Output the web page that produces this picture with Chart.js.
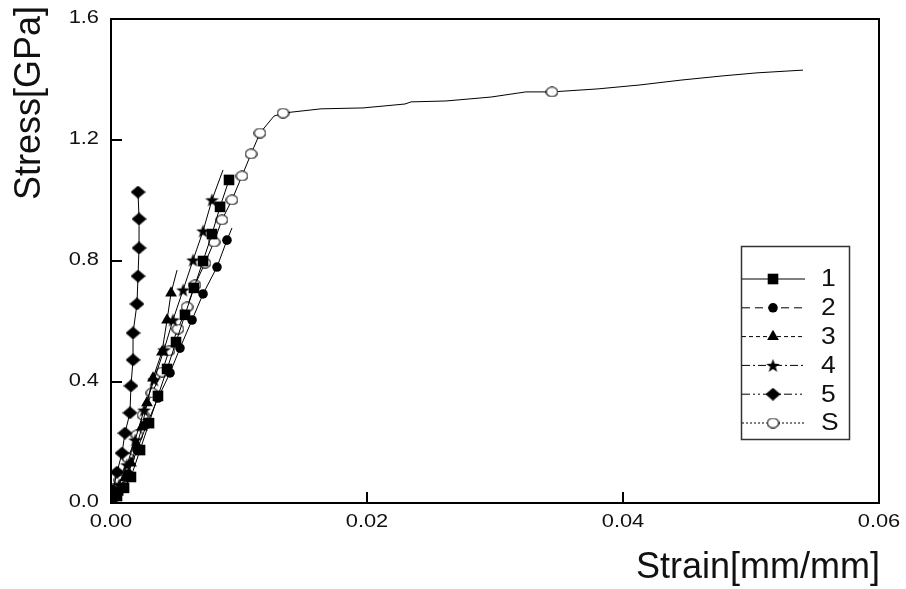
<!DOCTYPE html>
<html>
<head>
<meta charset="utf-8">
<script src="https://cdn.jsdelivr.net/npm/chart.js@4.4.1/dist/chart.umd.min.js"></script>
<style>
  html, body { margin: 0; padding: 0; background: #fff; }
  #stressChart { display: block; }
</style>
</head>
<body>
<canvas id="stressChart" width="906" height="589"></canvas>
<script>
// stress-strain curves of specimens 1-5 and S

const strain1 = [0, 0.00047, 0.00102, 0.00156, 0.00227, 0.00297, 0.00367, 0.00438, 0.00508, 0.00578, 0.00648, 0.00719, 0.00789, 0.00852, 0.00922];
const stress1 = [0, 0.023, 0.050, 0.086, 0.175, 0.264, 0.354, 0.443, 0.532, 0.622, 0.711, 0.800, 0.889, 0.979, 1.068];

const strain2 = [0, 0.00063, 0.00133, 0.00203, 0.00281, 0.00367, 0.00461, 0.00539, 0.00633, 0.00719, 0.00828, 0.00906, 0.00945];
const stress2 = [0, 0.036, 0.096, 0.175, 0.261, 0.347, 0.430, 0.512, 0.605, 0.691, 0.780, 0.869, 0.909];

const strain3 = [0, 0.00055, 0.00109, 0.00156, 0.00203, 0.00242, 0.00281, 0.00328, 0.00398, 0.00438, 0.00469, 0.00516];
const stress3 = [0, 0.036, 0.083, 0.132, 0.192, 0.251, 0.331, 0.413, 0.499, 0.605, 0.694, 0.770];

const strain4 = [0, 0.00016, 0.00063, 0.00125, 0.00188, 0.00258, 0.00336, 0.00414, 0.00484, 0.00563, 0.00641, 0.00719, 0.00789, 0.00875];
const stress4 = [0, 0.020, 0.060, 0.126, 0.208, 0.307, 0.407, 0.506, 0.605, 0.704, 0.803, 0.899, 1.002, 1.101];

const strain5 = [0, 0.00016, 0.00047, 0.00086, 0.00109, 0.00148, 0.00156, 0.00172, 0.00172, 0.00203, 0.00211, 0.00219, 0.00219, 0.00211];
const stress5 = [0, 0.043, 0.102, 0.165, 0.231, 0.298, 0.387, 0.473, 0.562, 0.658, 0.750, 0.843, 0.939, 1.028];

const strainS = [0, 0.0007, 0.00133, 0.00203, 0.0025, 0.0032, 0.00398, 0.00453, 0.00523, 0.00594, 0.00656,
  0.00734, 0.00805, 0.00867, 0.00945, 0.01023, 0.01094, 0.01164, 0.01273, 0.01344, 0.01641, 0.01969,
  0.02297, 0.02344, 0.02617, 0.02969, 0.03242, 0.03445, 0.03805, 0.04133, 0.04453, 0.04781, 0.05047, 0.05406];
const stressS = [0, 0.076, 0.149, 0.225, 0.291, 0.364, 0.433, 0.503, 0.575, 0.648, 0.721,
  0.793, 0.863, 0.936, 1.002, 1.081, 1.154, 1.223, 1.279, 1.289, 1.303, 1.306,
  1.319, 1.326, 1.329, 1.342, 1.359, 1.359, 1.369, 1.382, 1.398, 1.412, 1.422, 1.431];

// points that are only passed through by the line, no symbol
const bare1 = [];
const bare2 = [12];
const bare3 = [11];
const bare4 = [13];
const bare5 = [];
const bareS = [18, 20, 21, 22, 23, 24, 25, 26, 28, 29, 30, 31, 32, 33];

const seriesLabels = ['1', '2', '3', '4', '5', 'S'];
const xTicks = [0, 0.02, 0.04, 0.06];
const yTicks = [0, 0.4, 0.8, 1.2, 1.6];

// symbols chart.js doesn't ship: filled star, wide diamond, open ellipse
function makeMarker(w, h, draw) {
  const c = document.createElement('canvas');
  c.width = w;
  c.height = h;
  draw(c.getContext('2d'), w, h);
  return c;
}
const starImg = makeMarker(15, 15, function (g, w, h) {
  g.beginPath();
  for (let i = 0; i < 10; i++) {
    const r = i % 2 ? 2.9 : 7.2;
    const a = -Math.PI / 2 + i * Math.PI / 5;
    g.lineTo(w / 2 + r * Math.cos(a), h / 2 + 0.6 + r * Math.sin(a));
  }
  g.closePath();
  g.fillStyle = '#000';
  g.fill();
});
const diamondImg = makeMarker(15, 13, function (g, w, h) {
  g.beginPath();
  g.moveTo(w / 2, 0);
  g.lineTo(w, h / 2);
  g.lineTo(w / 2, h);
  g.lineTo(0, h / 2);
  g.closePath();
  g.fillStyle = '#000';
  g.fill();
});
const ringImg = makeMarker(13, 11, function (g, w, h) {
  g.beginPath();
  g.ellipse(w / 2, h / 2, w / 2 - 0.8, h / 2 - 0.8, 0, 0, 2 * Math.PI);
  g.fillStyle = '#fff';
  g.fill();
  g.lineWidth = 1.1;
  g.strokeStyle = '#000';
  g.stroke();
});

const series = [
  { xs: strain1, ys: stress1, bare: bare1, pointStyle: 'rect', radius: 7.5, dash: [] },
  { xs: strain2, ys: stress2, bare: bare2, pointStyle: 'circle', radius: 4.8, dash: [8, 5] },
  { xs: strain3, ys: stress3, bare: bare3, pointStyle: 'triangle', radius: 6.8, dash: [4, 3] },
  { xs: strain4, ys: stress4, bare: bare4, pointStyle: starImg, radius: 7, dash: [8, 3, 2, 3] },
  { xs: strain5, ys: stress5, bare: bare5, pointStyle: diamondImg, radius: 7, dash: [8, 3, 2, 3, 2, 3] },
  { xs: strainS, ys: stressS, bare: bareS, pointStyle: ringImg, radius: 5.5, dash: [2, 2] }
];

const datasets = series.map(function (s, k) {
  return {
    label: seriesLabels[k],
    data: s.xs.map(function (x, i) { return { x: x, y: s.ys[i] }; }),
    showLine: true,
    borderColor: '#000',
    borderWidth: 1,
    backgroundColor: '#000',
    pointBackgroundColor: '#000',
    pointBorderWidth: 0,
    pointStyle: s.pointStyle,
    pointRadius: function (ctx) { return s.bare.includes(ctx.dataIndex) ? 0 : s.radius; },
    tension: 0
  };
});

// draw text a bit wider than the font, like the original plot software
function wideText(ctx, text, x, y, size, align, stretch) {
  ctx.save();
  ctx.translate(x, y);
  ctx.scale(stretch, 1);
  ctx.font = size + 'px "Liberation Sans", Arial, sans-serif';
  ctx.fillStyle = '#111';
  ctx.textAlign = align;
  ctx.textBaseline = 'middle';
  ctx.fillText(text, 0, 0);
  ctx.restore();
}

// box frame, inward ticks, labels, titles and the legend box
const framePlugin = {
  id: 'framePlugin',
  afterDraw: function (chart) {
    const ctx = chart.ctx;
    const a = chart.chartArea;
    const xs = chart.scales.x;
    const ys = chart.scales.y;

    ctx.save();
    ctx.strokeStyle = '#000';
    ctx.lineWidth = 2;
    ctx.strokeRect(a.left, a.top, a.right - a.left, a.bottom - a.top);

    ctx.beginPath();
    yTicks.forEach(function (v) {
      if (v <= ys.min || v >= ys.max) return;
      const py = Math.round(ys.getPixelForValue(v));
      ctx.moveTo(a.left, py);
      ctx.lineTo(a.left + 11, py);
    });
    xTicks.forEach(function (v) {
      if (v <= xs.min || v >= xs.max) return;
      const px = Math.round(xs.getPixelForValue(v));
      ctx.moveTo(px, a.bottom);
      ctx.lineTo(px, a.bottom - 11);
    });
    ctx.stroke();

    yTicks.forEach(function (v) {
      wideText(ctx, v.toFixed(1), a.left - 12, ys.getPixelForValue(v) - 1, 19, 'right', 1.15);
    });
    xTicks.forEach(function (v) {
      wideText(ctx, v.toFixed(2), xs.getPixelForValue(v), a.bottom + 19, 19, 'center', 1.15);
    });

    // axis titles
    wideText(ctx, 'Strain[mm/mm]', a.right + 1, 568, 36, 'right', 1);
    ctx.save();
    ctx.translate(30, 6);
    ctx.rotate(-Math.PI / 2);
    wideText(ctx, 'Stress[GPa]', 0, 0, 36, 'right', 1);
    ctx.restore();

    // legend
    const box = { left: 741.5, top: 246.5, w: 108, h: 193 };
    ctx.lineWidth = 1.5;
    ctx.strokeStyle = '#333';
    ctx.strokeRect(box.left, box.top, box.w, box.h);
    series.forEach(function (s, k) {
      const y = 279 + k * 28.8;
      ctx.beginPath();
      ctx.setLineDash(s.dash);
      ctx.lineWidth = 1;
      ctx.strokeStyle = '#000';
      ctx.moveTo(742, y);
      ctx.lineTo(805, y);
      ctx.stroke();
      ctx.setLineDash([]);
      ctx.fillStyle = '#000';
      Chart.helpers.drawPoint(ctx, { pointStyle: s.pointStyle, radius: s.radius, rotation: 0, borderWidth: 0 }, 773, y);
      wideText(ctx, seriesLabels[k], 821, y + 1, 23, 'left', 1.15);
    });
    ctx.restore();
  }
};

new Chart(document.getElementById('stressChart'), {
  type: 'scatter',
  data: { datasets: datasets },
  options: {
    responsive: false,
    animation: false,
    layout: { padding: { top: 19, right: 27, left: 0, bottom: 0 } },
    plugins: {
      legend: { display: false },
      tooltip: { enabled: false }
    },
    scales: {
      x: {
        type: 'linear',
        min: 0,
        max: 0.06,
        ticks: { display: false },
        grid: { display: false, drawTicks: false },
        border: { display: false },
        afterFit: function (s) { s.height = 86; }
      },
      y: {
        type: 'linear',
        min: 0,
        max: 1.6,
        ticks: { display: false },
        grid: { display: false, drawTicks: false },
        border: { display: false },
        afterFit: function (s) { s.width = 111; }
      }
    }
  },
  plugins: [framePlugin]
});
</script>
</body>
</html>
